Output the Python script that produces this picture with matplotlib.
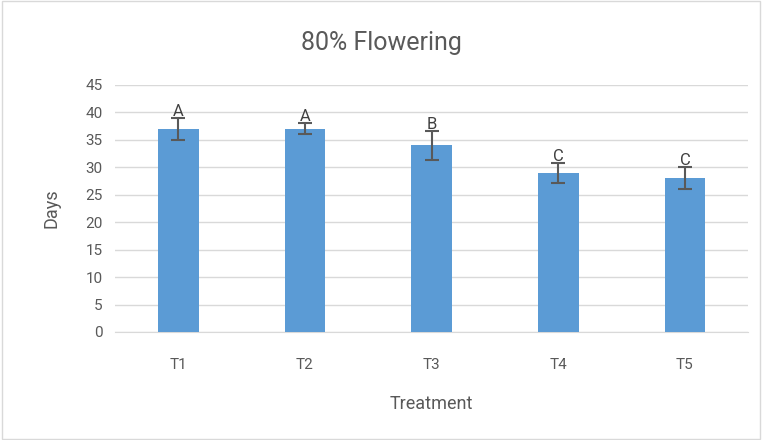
import matplotlib
matplotlib.use("Agg")
import matplotlib.pyplot as plt

categories = ["T1", "T2", "T3", "T4", "T5"]
values = [37, 37, 34, 29, 28]
errors = [2.0, 1.0, 2.6, 1.8, 2.0]
letters = ["A", "A", "B", "C", "C"]
yticks = [0, 5, 10, 15, 20, 25, 30, 35, 40, 45]

plt.rcParams['font.family'] = ['Roboto', 'DejaVu Sans']

fig = plt.figure(figsize=(7.62, 4.40), dpi=100)
fig.patch.set_facecolor('white')
ax = fig.add_axes([0.151, 0.2455, 0.831, 0.5615])

x = list(range(len(categories)))
ax.bar(x, values, width=0.32, color='#5B9BD5', zorder=3)
ax.errorbar(x, values, yerr=errors, fmt='none', ecolor='#595959', elinewidth=1.5,
            capsize=5, capthick=1.5, zorder=4)
for xi, v, e, l in zip(x, values, errors, letters):
    ax.text(xi, v + e - 0.15, l, ha='center', va='bottom', fontsize=12, color='#404040', zorder=5)

ax.set_xlim(-0.5, len(categories) - 0.5)
ax.set_ylim(0, 45)
ax.set_yticks(yticks)
ax.set_xticks(x)
ax.set_xticklabels(categories)
ax.grid(axis='y', color='#D9D9D9', linewidth=1, zorder=0)
ax.set_axisbelow(True)
for s in ['top', 'right', 'left']:
    ax.spines[s].set_visible(False)
ax.spines['bottom'].set_color('#D9D9D9')
ax.tick_params(axis='both', length=0, labelsize=11, colors='#595959', pad=9)
ax.tick_params(axis='x', pad=19)

ax.set_xlabel("Treatment", fontsize=13, color='#595959', labelpad=16)
ax.set_ylabel("Days", fontsize=13, color='#595959', labelpad=18)
fig.text(0.5, 0.902, "80% Flowering", ha='center', va='center', fontsize=18, color='#595959')

border = plt.Rectangle((0.002, 0.003), 0.995, 0.994, transform=fig.transFigure,
                       fill=False, edgecolor='#D9D9D9', linewidth=1)
fig.patches.append(border)

fig.savefig("out.png", dpi=100)
